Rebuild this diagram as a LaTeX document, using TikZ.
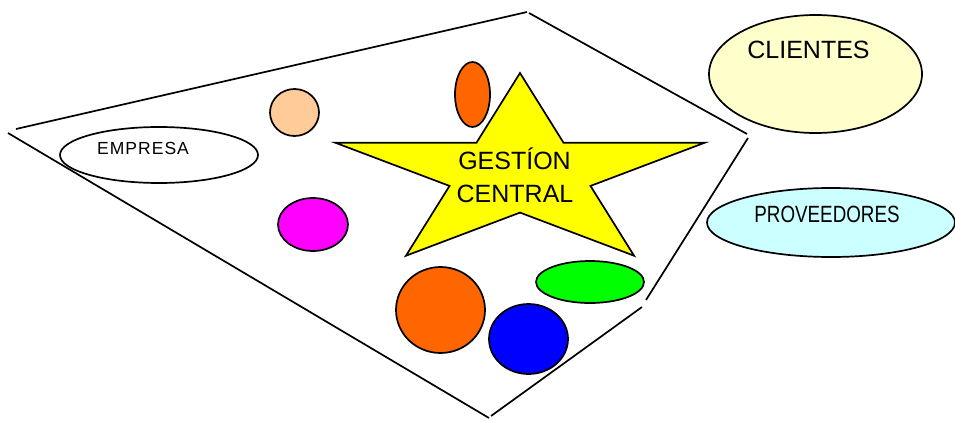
\documentclass[tikz,border=0pt]{standalone}
\usepackage{fontspec}
\setmainfont{Liberation Sans}
\usetikzlibrary{shapes.geometric}
\definecolor{cliente}{HTML}{FFFFCC}
\definecolor{provee}{HTML}{CCFFFF}
\definecolor{peach}{HTML}{FFCC99}
\definecolor{orng}{HTML}{FF6600}
\definecolor{magen}{HTML}{FF00FF}
\definecolor{grn}{HTML}{00FF00}
\definecolor{blu}{HTML}{0000FF}
\definecolor{yell}{HTML}{FFFF00}
\begin{document}
\begin{tikzpicture}[x=1pt,y=-1pt,
  blob/.style={draw=black, line width=1.7pt, ellipse, inner sep=0pt, outer sep=0pt},
  rim/.style={draw=black, line width=1.7pt},
  lbl/.style={inner sep=0pt, text=black, anchor=base}]
\useasboundingbox (0,0) rectangle (955,420);
% enclosing outline (open corners)
\draw[rim] (16,129) -- (527,12);
\draw[rim] (529,13) -- (747,134);
\draw[rim] (748,138) -- (646,300);
\draw[rim] (642,307) -- (491,416);
\draw[rim] (8,133) -- (489,418);
% ellipses
\node[blob, fill=white, minimum width=198pt, minimum height=56pt] (empresa) at (159,155) {};
\node[blob, fill=cliente, minimum width=213pt, minimum height=118pt] (clientes) at (815.5,74) {};
\node[blob, fill=provee, minimum width=248pt, minimum height=69pt] (proveedores) at (831,222.5) {};
\node[blob, fill=peach, minimum width=49pt, minimum height=47pt] (peach) at (294.5,112.5) {};
\node[blob, fill=orng, minimum width=35pt, minimum height=65pt] (orsmall) at (472.5,94.5) {};
\node[blob, fill=magen, minimum width=70pt, minimum height=53pt] (magenta) at (313,224.5) {};
\node[blob, fill=orng, minimum width=89pt, minimum height=86pt] (orbig) at (440.5,310) {};
\node[blob, fill=grn, minimum width=108pt, minimum height=42pt] (green) at (590,282) {};
\node[blob, fill=blu, minimum width=79pt, minimum height=70pt] (blue) at (528.5,339) {};
% star
\begin{scope}[shift={(520,174)}, xscale=194, yscale=-101]
\draw[rim, fill=yell, line join=miter] (90:1) -- (126:0.382) -- (162:1) -- (198:0.382) -- (234:1)
  -- (270:0.382) -- (306:1) -- (342:0.382) -- (18:1) -- (54:0.382) -- cycle;
\end{scope}
\coordinate (starc) at (520,174);
% texts
\node[lbl] (tempresa) at (143,154.3) {\fontsize{17.5}{20}\selectfont\addfontfeature{LetterSpace=6}EMPRESA};
\node[lbl] (tclientes) at (808.5,59) {\fontsize{25}{30}\selectfont CLIENTES};
\node[lbl] (tprov) at (827,222) {\fontsize{23.5}{28}\selectfont\scalebox{0.8}[1]{PROVEEDORES}};
\node[lbl] (tgest) at (514.5,169) {\fontsize{25}{30}\selectfont GESTÍON};
\node[lbl] (tcent) at (515,202) {\fontsize{25}{30}\selectfont CENTRAL};
\end{tikzpicture}
\end{document}
